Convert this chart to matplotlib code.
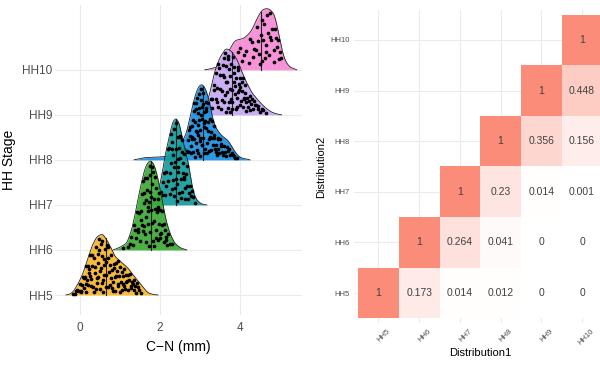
import numpy as np
import matplotlib
matplotlib.use("Agg")
import matplotlib.pyplot as plt
from matplotlib.colors import LinearSegmentedColormap
from matplotlib.transforms import ScaledTranslation

plt.rcParams['font.family'] = ['Liberation Sans', 'DejaVu Sans']

# ---------------- data: ridgeline (left) ----------------
stages = ['HH5', 'HH6', 'HH7', 'HH8', 'HH9', 'HH10']
colors = ['#F8B62D', '#3CAB35', '#139B9B', '#1C8FE1', '#C6A8F4', '#F78AD5']

dens_x_hh5 = [-0.35, -0.25, -0.17, -0.04, 0.08, 0.29, 0.42, 0.57, 0.72, 0.875, 1.05, 1.21, 1.35, 1.5, 1.62, 1.71, 1.85, 1.95]
dens_h_hh5 = [0, 0.02, 0.07, 0.26, 0.49, 1.07, 1.30, 1.36, 1.15, 0.85, 0.72, 0.59, 0.42, 0.26, 0.12, 0.04, 0.01, 0]
dens_x_hh6 = [0.83, 1.0, 1.17, 1.29, 1.38, 1.46, 1.55, 1.62, 1.70, 1.77, 1.85, 1.92, 1.98, 2.04, 2.10, 2.17, 2.27, 2.37, 2.5, 2.67]
dens_h_hh6 = [0, 0.06, 0.15, 0.44, 0.80, 1.18, 1.55, 1.80, 1.95, 1.99, 1.90, 1.70, 1.45, 1.18, 0.88, 0.59, 0.32, 0.15, 0.05, 0]
dens_x_hh7 = [1.6, 1.8, 1.9, 1.97, 2.04, 2.12, 2.19, 2.25, 2.32, 2.4, 2.48, 2.58, 2.65, 2.71, 2.79, 2.85, 2.92, 3.04, 3.17]
dens_h_hh7 = [0, 0.05, 0.15, 0.35, 0.63, 1.07, 1.35, 1.6, 1.85, 1.93, 1.82, 1.4, 1.15, 0.93, 0.48, 0.25, 0.11, 0.02, 0]
dens_x_hh8 = [1.35, 1.6, 1.9, 2.2, 2.4, 2.55, 2.67, 2.75, 2.87, 2.95, 3.04, 3.12, 3.21, 3.33, 3.42, 3.55, 3.71, 3.87, 4.0, 4.25]
dens_h_hh8 = [0, 0.05, 0.06, 0.08, 0.2, 0.4, 0.6, 0.96, 1.41, 1.62, 1.70, 1.62, 1.41, 0.85, 0.67, 0.53, 0.43, 0.18, 0.05, 0]
dens_x_hh9 = [2.9, 3.05, 3.21, 3.29, 3.37, 3.5, 3.65, 3.78, 3.92, 4.02, 4.12, 4.29, 4.42, 4.54, 4.66, 4.79, 4.92, 5.04]
dens_h_hh9 = [0, 0.1, 0.36, 0.65, 0.98, 1.28, 1.48, 1.42, 1.24, 1.02, 0.8, 0.5, 0.36, 0.24, 0.14, 0.06, 0.02, 0]
dens_x_hh10 = [3.12, 3.25, 3.42, 3.58, 3.72, 3.87, 4.0, 4.08, 4.2, 4.29, 4.42, 4.54, 4.63, 4.71, 4.8, 4.87, 4.96, 5.08, 5.17, 5.25, 5.42]
dens_h_hh10 = [0, 0.02, 0.06, 0.2, 0.42, 0.65, 0.68, 0.69, 0.78, 0.87, 1.13, 1.32, 1.36, 1.36, 1.3, 1.21, 0.84, 0.32, 0.14, 0.06, 0]

medians = [0.64, 1.77, 2.40, 3.08, 3.79, 4.52]

pts_x_hh5 = [-0.18, -0.12, -0.08, -0.03, 0.0, 0.03, 0.05, 0.07, 0.1, 0.12, 0.14, 0.17, 0.19, 0.21, 0.23, 0.26, 0.28, 0.3, 0.33, 0.35, 0.37, 0.39, 0.42, 0.44, 0.46, 0.48, 0.5, 0.52, 0.54, 0.56, 0.58, 0.6, 0.62, 0.64, 0.66, 0.69, 0.71, 0.73, 0.75, 0.78, 0.8, 0.83, 0.85, 0.88, 0.9, 0.93, 0.96, 0.99, 1.02, 1.05, 1.08, 1.11, 1.14, 1.17, 1.2, 1.24, 1.27, 1.3, 1.34, 1.38, 1.42, 1.47, 1.52, 0.15, 0.36, 0.47, 0.57, 0.68, 0.82, 0.95,
             -0.1, 0.02, 0.09, 0.16, 0.22, 0.27, 0.31, 0.38, 0.41, 0.45, 0.49, 0.53, 0.55, 0.59, 0.61, 0.65, 0.7, 0.74, 0.77, 0.81, 0.84, 0.87, 0.91, 0.94, 0.98, 1.01, 1.04, 1.07, 1.1, 1.13, 1.16, 1.19, 1.23, 1.28, 1.32, 1.36, 1.4, 1.45, 0.25, 0.43]
pts_f_hh5 = [0.4, 0.2, 0.6, 0.35, 0.75, 0.15, 0.5, 0.85, 0.3, 0.65, 0.1, 0.45, 0.8, 0.25, 0.55, 0.9, 0.35, 0.6, 0.15, 0.7, 0.4, 0.85, 0.2, 0.55, 0.3, 0.75, 0.1, 0.45, 0.65, 0.9, 0.25, 0.5, 0.8, 0.35, 0.6, 0.15, 0.7, 0.45, 0.2, 0.85, 0.55, 0.3, 0.75, 0.1, 0.5, 0.65, 0.25, 0.8, 0.4, 0.15, 0.6, 0.3, 0.7, 0.5, 0.2, 0.85, 0.4, 0.6, 0.25, 0.5, 0.75, 0.35, 0.2, 0.95, 0.05, 0.95, 0.05, 0.92, 0.1, 0.95,
             0.55, 0.25, 0.7, 0.35, 0.65, 0.2, 0.8, 0.5, 0.1, 0.7, 0.4, 0.85, 0.2, 0.6, 0.35, 0.15, 0.9, 0.6, 0.35, 0.15, 0.65, 0.45, 0.85, 0.3, 0.55, 0.1, 0.7, 0.35, 0.85, 0.2, 0.45, 0.75, 0.6, 0.3, 0.55, 0.8, 0.15, 0.55, 0.45, 0.3]
pts_x_hh6 = [1.08, 1.2, 1.28, 1.33, 1.38, 1.42, 1.45, 1.48, 1.5, 1.53, 1.55, 1.58, 1.6, 1.62, 1.64, 1.66, 1.68, 1.7, 1.72, 1.74, 1.76, 1.78, 1.8, 1.82, 1.84, 1.86, 1.88, 1.9, 1.92, 1.94, 1.96, 1.98, 2.0, 2.03, 2.06, 2.09, 2.12, 2.16, 2.2, 2.25, 2.3, 1.57, 1.65, 1.73, 1.81, 1.89, 1.97, 1.69, 1.77, 1.85, 1.61, 1.93, 2.01, 1.46, 1.35,
             1.25, 1.4, 1.52, 1.59, 1.63, 1.67, 1.71, 1.75, 1.79, 1.83, 1.87, 1.91, 1.95, 1.99, 2.05, 2.1, 2.14, 2.18, 1.56, 1.74]
pts_f_hh6 = [0.5, 0.3, 0.7, 0.2, 0.55, 0.85, 0.35, 0.65, 0.15, 0.45, 0.8, 0.25, 0.6, 0.9, 0.4, 0.1, 0.7, 0.3, 0.55, 0.85, 0.2, 0.45, 0.75, 0.1, 0.6, 0.35, 0.9, 0.25, 0.5, 0.7, 0.15, 0.4, 0.65, 0.3, 0.8, 0.2, 0.55, 0.45, 0.7, 0.35, 0.5, 0.95, 0.6, 0.05, 0.95, 0.15, 0.85, 0.5, 0.6, 0.05, 0.3, 0.55, 0.2, 0.4, 0.8,
             0.4, 0.3, 0.6, 0.75, 0.2, 0.85, 0.45, 0.65, 0.3, 0.9, 0.5, 0.8, 0.6, 0.25, 0.5, 0.65, 0.3, 0.2, 0.35, 0.95]
pts_x_hh7 = [2.02, 2.06, 2.1, 2.13, 2.16, 2.19, 2.22, 2.25, 2.28, 2.3, 2.32, 2.34, 2.36, 2.38, 2.4, 2.42, 2.44, 2.46, 2.48, 2.5, 2.52, 2.54, 2.56, 2.58, 2.6, 2.62, 2.65, 2.68, 2.71, 2.74, 2.78, 2.82, 2.87, 2.27, 2.35, 2.43, 2.51, 2.59, 2.39, 2.47, 2.31, 2.55, 2.63, 2.2, 2.45,
             2.08, 2.15, 2.24, 2.29, 2.33, 2.37, 2.41, 2.44, 2.49, 2.53, 2.57, 2.61, 2.67, 2.72, 2.8]
pts_f_hh7 = [0.5, 0.3, 0.75, 0.2, 0.6, 0.4, 0.85, 0.15, 0.55, 0.7, 0.3, 0.9, 0.1, 0.5, 0.65, 0.25, 0.8, 0.4, 0.15, 0.6, 0.35, 0.75, 0.2, 0.5, 0.85, 0.3, 0.6, 0.4, 0.15, 0.55, 0.35, 0.5, 0.25, 0.95, 0.45, 0.05, 0.9, 0.45, 0.3, 0.7, 0.2, 0.95, 0.1, 0.9, 0.45,
             0.6, 0.35, 0.45, 0.8, 0.6, 0.2, 0.95, 0.55, 0.85, 0.1, 0.65, 0.45, 0.8, 0.3, 0.7]
pts_x_hh8 = [2.6, 2.65, 2.7, 2.73, 2.76, 2.79, 2.82, 2.84, 2.86, 2.88, 2.9, 2.92, 2.94, 2.96, 2.98, 3.0, 3.02, 3.04, 3.06, 3.08, 3.1, 3.12, 3.14, 3.16, 3.18, 3.2, 3.22, 3.25, 3.28, 3.31, 3.34, 3.37, 3.4, 3.44, 3.48, 3.52, 3.56, 3.6, 3.65, 3.7, 3.75, 3.8, 3.86, 3.92, 2.85, 2.91, 2.97, 3.03, 3.09, 3.15, 2.8, 2.87, 2.93, 2.99, 3.05, 3.11, 3.17, 3.24, 3.3, 3.42, 3.5, 3.58, 3.68, 2.95, 3.01, 2.89, 3.07, 2.77, 3.13, 3.35,
             2.68, 2.72, 2.75, 2.78, 2.81, 2.83, 2.9, 2.94, 2.98, 3.02, 3.06, 3.1, 3.14, 3.19, 3.23, 3.27, 3.32, 3.36, 3.41, 3.46, 3.53, 3.62, 3.72, 3.82, 3.88, 2.92, 3.0, 3.08, 3.2, 3.45]
pts_f_hh8 = [0.5, 0.3, 0.6, 0.2, 0.75, 0.45, 0.15, 0.85, 0.35, 0.6, 0.25, 0.9, 0.5, 0.1, 0.7, 0.4, 0.8, 0.2, 0.55, 0.3, 0.65, 0.15, 0.45, 0.85, 0.25, 0.6, 0.35, 0.75, 0.2, 0.5, 0.65, 0.3, 0.45, 0.7, 0.25, 0.55, 0.35, 0.6, 0.2, 0.45, 0.3, 0.55, 0.4, 0.25, 0.95, 0.75, 0.55, 0.95, 0.1, 0.75, 0.65, 0.05, 0.4, 0.25, 0.7, 0.45, 0.1, 0.4, 0.85, 0.15, 0.8, 0.2, 0.65, 0.65, 0.05, 0.45, 0.9, 0.3, 0.55, 0.9,
             0.3, 0.8, 0.55, 0.15, 0.4, 0.7, 0.85, 0.35, 0.9, 0.6, 0.2, 0.5, 0.7, 0.45, 0.15, 0.55, 0.35, 0.6, 0.25, 0.4, 0.65, 0.35, 0.6, 0.45, 0.2, 0.15, 0.3, 0.75, 0.9, 0.75]
pts_x_hh9 = [3.22, 3.27, 3.31, 3.35, 3.39, 3.42, 3.45, 3.48, 3.51, 3.54, 3.57, 3.6, 3.63, 3.66, 3.69, 3.72, 3.75, 3.78, 3.81, 3.84, 3.87, 3.9, 3.93, 3.96, 3.99, 4.02, 4.05, 4.08, 4.12, 4.16, 4.2, 4.24, 4.28, 4.33, 4.38, 4.44, 4.5, 4.57, 4.65, 3.46, 3.53, 3.59, 3.65, 3.71, 3.77, 3.83, 3.89, 3.95, 4.01, 4.07, 4.14, 4.22, 4.3, 3.4, 3.62, 3.74, 3.86, 3.98, 4.1, 4.4,
             3.25, 3.3, 3.36, 3.43, 3.5, 3.55, 3.58, 3.61, 3.64, 3.68, 3.7, 3.73, 3.76, 3.8, 3.85, 3.88, 3.92, 3.97, 4.0, 4.04, 4.09, 4.13, 4.18, 4.26, 4.35, 4.46, 4.55, 3.67, 3.79, 3.94]
pts_f_hh9 = [0.4, 0.6, 0.2, 0.75, 0.35, 0.55, 0.15, 0.85, 0.45, 0.25, 0.65, 0.9, 0.3, 0.5, 0.1, 0.7, 0.4, 0.8, 0.2, 0.55, 0.35, 0.65, 0.15, 0.45, 0.75, 0.3, 0.55, 0.2, 0.6, 0.4, 0.25, 0.7, 0.45, 0.3, 0.55, 0.4, 0.25, 0.5, 0.35, 0.95, 0.1, 0.6, 0.05, 0.9, 0.25, 0.95, 0.1, 0.85, 0.6, 0.9, 0.1, 0.5, 0.7, 0.9, 0.95, 0.05, 0.8, 0.5, 0.45, 0.6,
             0.3, 0.5, 0.6, 0.25, 0.7, 0.4, 0.8, 0.2, 0.75, 0.35, 0.85, 0.2, 0.6, 0.4, 0.7, 0.5, 0.3, 0.6, 0.2, 0.75, 0.4, 0.85, 0.55, 0.2, 0.7, 0.6, 0.55, 0.5, 0.1, 0.9]
pts_x_hh10 = [3.85, 3.95, 4.05, 4.15, 4.22, 4.3, 4.36, 4.42, 4.47, 4.52, 4.56, 4.6, 4.64, 4.68, 4.72, 4.76, 4.8, 4.84, 4.88, 4.92, 4.97, 5.02, 4.5, 4.62, 4.74, 4.86, 4.4, 4.58, 4.7, 4.95,
              4.0, 4.1, 4.26, 4.45, 4.54, 4.66, 4.78, 4.9, 5.0, 4.33]
pts_f_hh10 = [0.4, 0.6, 0.3, 0.55, 0.2, 0.7, 0.45, 0.85, 0.3, 0.6, 0.15, 0.75, 0.4, 0.9, 0.25, 0.55, 0.7, 0.35, 0.8, 0.5, 0.3, 0.45, 0.1, 0.2, 0.95, 0.15, 0.4, 0.5, 0.6, 0.75,
              0.7, 0.45, 0.8, 0.55, 0.85, 0.3, 0.5, 0.65, 0.6, 0.3]

dens_x = [dens_x_hh5, dens_x_hh6, dens_x_hh7, dens_x_hh8, dens_x_hh9, dens_x_hh10]
dens_h = [dens_h_hh5, dens_h_hh6, dens_h_hh7, dens_h_hh8, dens_h_hh9, dens_h_hh10]
pts_x = [pts_x_hh5, pts_x_hh6, pts_x_hh7, pts_x_hh8, pts_x_hh9, pts_x_hh10]
pts_f = [pts_f_hh5, pts_f_hh6, pts_f_hh7, pts_f_hh8, pts_f_hh9, pts_f_hh10]

# ---------------- data: heatmap (right) ----------------
dist_labels = ['HH5', 'HH6', 'HH7', 'HH8', 'HH9', 'HH10']
row_hh5 = [1, 0.173, 0.014, 0.012, 0, 0]
row_hh6 = [None, 1, 0.264, 0.041, 0, 0]
row_hh7 = [None, None, 1, 0.23, 0.014, 0.001]
row_hh8 = [None, None, None, 1, 0.356, 0.156]
row_hh9 = [None, None, None, None, 1, 0.448]
row_hh10 = [None, None, None, None, None, 1]
overlap_rows = [row_hh5, row_hh6, row_hh7, row_hh8, row_hh9, row_hh10]

# ---------------- figure ----------------
fig = plt.figure(figsize=(6, 3.65), dpi=100)
grid_c = '#EBEBEB'
tick_c = '#4D4D4D'

# left ridge plot
ax = fig.add_axes([55 / 600, 50 / 365, 247 / 600, 310 / 365])
ax.set_xlim(-0.625, 5.55)
ax.set_ylim(-0.444, 6.44)
for s in ax.spines.values():
    s.set_visible(False)
ax.set_xticks([0, 2, 4])
ax.set_yticks(range(len(stages)))
ax.set_yticklabels(stages)
ax.tick_params(length=0, colors=tick_c, labelsize=8.5, pad=2)
ax.tick_params(axis='x', pad=5)
ax.grid(True, color=grid_c, lw=0.8, zorder=0)
ax.set_axisbelow(True)
ax.set_xlabel('C\u2212N (mm)', fontsize=10, labelpad=4)
ax.set_ylabel('HH Stage', fontsize=10, labelpad=4)

def smooth_curve(xs, hs):
    xf = np.linspace(xs[0], xs[-1], 400)
    hf = np.interp(xf, xs, hs)
    k = np.exp(-0.5 * (np.arange(-15, 16) / 6.0) ** 2)
    k /= k.sum()
    hp = np.pad(hf, 15, mode='edge')
    hs2 = np.convolve(hp, k, mode='same')[15:-15]
    hs2[0] = 0
    hs2[-1] = 0
    return xf, hs2

n = len(stages)
for i in range(n - 1, -1, -1):
    z = 10 + (n - i) * 3
    base = i
    xf, hf = smooth_curve(dens_x[i], dens_h[i])
    ax.fill_between(xf, base, base + hf, color=colors[i], alpha=0.92, lw=0, zorder=z)
    ax.plot(xf, base + hf, color='#222222', lw=0.6, zorder=z + 0.5)
    mh = np.interp(medians[i], xf, hf)
    ax.plot([medians[i], medians[i]], [base, base + mh], color='#222222', lw=0.8, zorder=z + 0.6)
    px = np.array(pts_x[i])
    pf = np.array(pts_f[i])
    py = base + pf * np.interp(px, xf, hf)
    ax.scatter(px, py, s=7, color='black', lw=0, zorder=z + 0.7)

# right heatmap
ax2 = fig.add_axes([354 / 600, (365 - 323.4) / 365, 252.5 / 600, 313.8 / 365])
ax2.set_xlim(-0.6, 5.6)
ax2.set_ylim(-0.6, 5.6)
for s in ax2.spines.values():
    s.set_visible(False)
cmap = LinearSegmentedColormap.from_list('wr', ['#FFFFFF', '#FA8C79'])
ax2.set_xticks(range(len(dist_labels)))
ax2.set_yticks(range(len(dist_labels)))
ax2.set_xticklabels(dist_labels, rotation=45, ha='right', rotation_mode='anchor')
ax2.set_yticklabels(dist_labels)
ax2.tick_params(length=0, colors=tick_c, labelsize=5.5, pad=3)
off = ScaledTranslation(6 / 72, 0, fig.dpi_scale_trans)
for lab in ax2.get_xticklabels():
    lab.set_transform(lab.get_transform() + off)
ax2.grid(True, color=grid_c, lw=0.8, zorder=0)
ax2.set_axisbelow(True)
for r, row in enumerate(overlap_rows):
    for c, v in enumerate(row):
        if v is None:
            continue
        ax2.add_patch(plt.Rectangle((c - 0.5, r - 0.5), 1, 1, facecolor=cmap(float(v)), edgecolor='none', zorder=2))
        ax2.text(c, r, '{:g}'.format(v), ha='center', va='center', fontsize=7.5, color='#404040', zorder=3)
ax2.set_xlabel('Distribution1', fontsize=8, labelpad=1)
ax2.set_ylabel('Distribution2', fontsize=8, labelpad=3)

fig.savefig('out.png', dpi=100)
